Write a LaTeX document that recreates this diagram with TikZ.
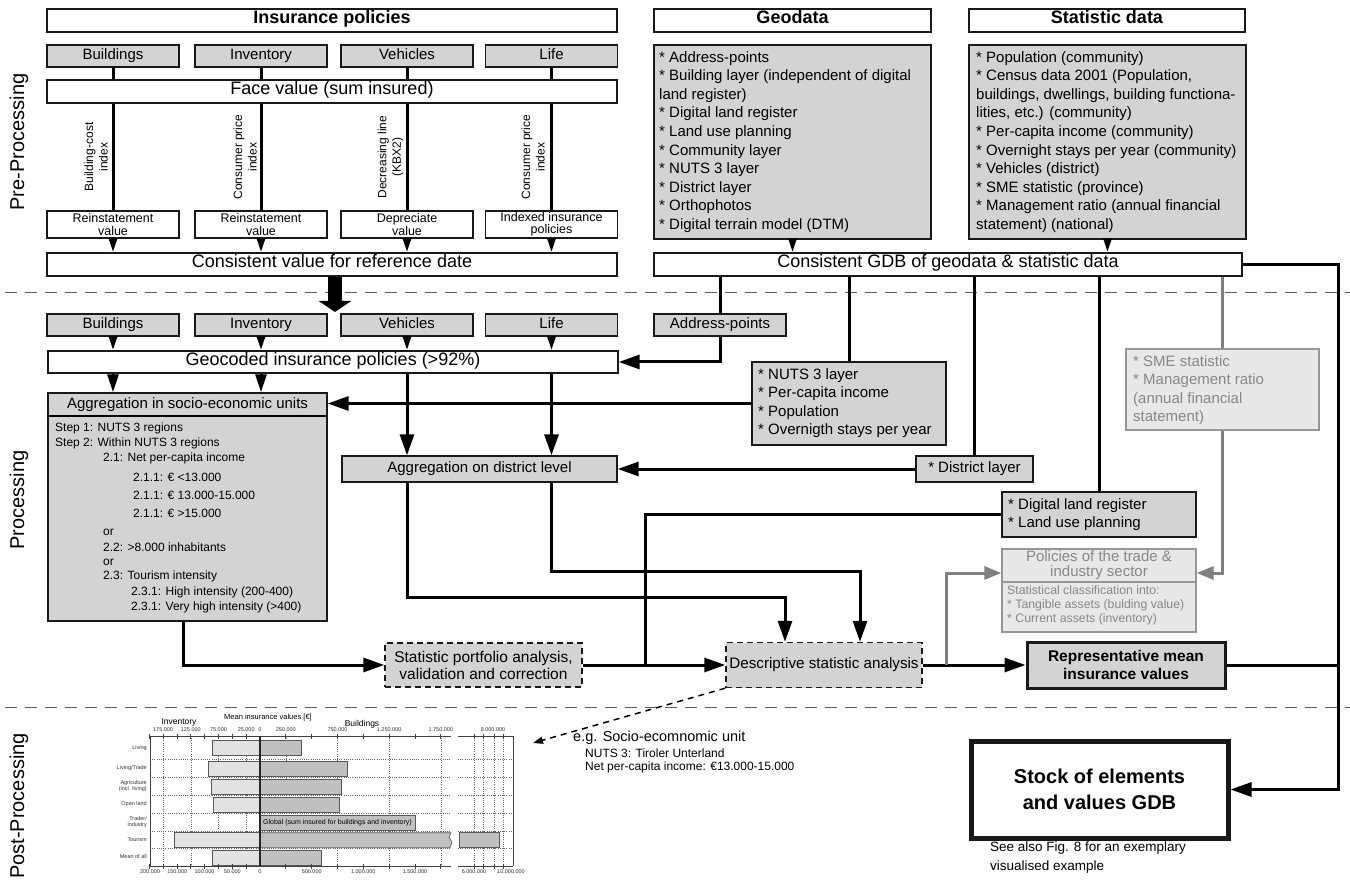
\documentclass[tikz,border=0pt]{standalone}
\usepackage{fontspec}
\setmainfont{Liberation Sans}
\usetikzlibrary{arrows.meta}
\definecolor{boxgray}{RGB}{211,211,211}
\definecolor{lightfill}{RGB}{232,232,232}
\definecolor{lightdraw}{RGB}{150,150,150}
\definecolor{lighttext}{RGB}{135,135,135}
\definecolor{arrowgray}{RGB}{128,128,128}
\definecolor{sepgray}{RGB}{90,90,90}
\definecolor{invbar}{RGB}{226,226,226}
\definecolor{bldbar}{RGB}{192,192,192}
\newcommand\myfs[2]{\fontsize{#1pt}{#2pt}\selectfont}
\begin{document}
\begin{tikzpicture}[x=1pt,y=-1pt,
  bx/.style={draw=black!90, line width=1.4pt, inner sep=0pt, align=center, font=\myfs{15}{17}},
  gb/.style={bx, fill=boxgray},
  wb/.style={bx, fill=white},
  sl/.style={text height=0.88em, text depth=0.2em},
  lb/.style={draw=lightdraw, line width=1.4pt, fill=lightfill, inner sep=0pt},
  hdr/.style={wb, sl, font=\bfseries\myfs{18}{20}, minimum height=23pt},
  wide/.style={wb, sl, font=\myfs{18}{20}, minimum width=570pt, minimum height=23pt},
  cat/.style={gb, sl, minimum width=132pt, minimum height=22pt, font=\myfs{15}{17}},
  res/.style={wb, minimum width=132pt, minimum height=27pt, font=\myfs{12.5}{12.5}},
  rot/.style={rotate=90, align=center, font=\myfs{12}{14.5}, inner sep=0pt},
  ln/.style={line width=3pt, draw=black},
  tS/.style={-{Triangle[length=14pt,width=8pt]}},
  tM/.style={-{Triangle[length=21pt,width=14pt]}},
  tMd/.style={-{Triangle[length=18pt,width=11pt]}},
  gline/.style={line width=3pt, draw=arrowgray},
  tG/.style={-{Triangle[length=17pt,width=13pt]}},
  lst/.style={anchor=north west, align=left, inner sep=0pt, font=\myfs{15}{18.6}},
  sepl/.style={draw=sepgray, line width=1pt, dash pattern=on 12pt off 8pt},
  dbox/.style={gb, dash pattern=on 6pt off 4pt},
  small/.style={anchor=west, inner sep=0pt, font=\myfs{12}{14}},
  side/.style={rotate=90, font=\myfs{20}{22}, inner sep=0pt},
  grid/.style={draw=black!60, line width=0.6pt, dash pattern=on 1pt off 1.2pt},
  ax/.style={draw=black!75, line width=0.8pt},
  tl/.style={font=\myfs{5.5}{6}, inner sep=0pt, text=black!80},
  rl/.style={font=\myfs{5.5}{6}, inner sep=0pt, anchor=east, align=right, text=black!80},
  invb/.style={draw=black!65, line width=0.6pt, fill=invbar},
  bldb/.style={draw=black!65, line width=0.6pt, fill=bldbar}
]
\fill[white] (0,0) rectangle (1350,885);
\useasboundingbox (0,0) rectangle (1350,885);

% side labels
\node[side] (pre) at (19,142) {Pre-Processing};
\node[side] (proc) at (19,500) {Processing};
\node[side] (post) at (19,806) {Post-Processing};

% separators
\draw[sepl] (5,293) -- (1350,293);
\draw[sepl] (5,707) -- (1350,707);

% headers
\node[hdr, minimum width=570pt] (ins) at (332,20.5) {Insurance policies};
\node[hdr, minimum width=277pt] (geoh) at (792.5,20.5) {Geodata};
\node[hdr, minimum width=276pt] (stath) at (1107,20.5) {Statistic data};

% pre-processing, insurance
\node[cat] (b1) at (113,56) {Buildings};
\node[cat] (i1) at (261,56) {Inventory};
\node[cat] (v1) at (407,56) {Vehicles};
\node[cat] (l1) at (551.5,56) {Life};
\node[wide] (face) at (332,91.5) {Face value (sum insured)};
\node[res] (r1) at (113,224.5) {Reinstatement\\value};
\node[res] (r2) at (261,224.5) {Reinstatement\\value};
\node[res] (r3) at (407,224.5) {Depreciate\\value};
\node[res] (r4) at (551.5,224.5) {Indexed insurance\\policies};
\node[wide] (cons) at (332,264.5) {Consistent value for reference date};

\foreach \n in {b1,i1,v1,l1} \draw[ln] (\n.south) -- (\n.south |- face.north);
\foreach \n in {r1,r2,r3,r4} {
  \draw[ln] (face.south -| \n.north) -- (\n.north);
  \draw[ln,tS] (\n.south) -- (\n.south |- cons.north);
}
\node[rot] (k1) at (96,157) {Building-cost\\index};
\node[rot] (k2) at (245,157) {Consumer price\\index};
\node[rot] (k3) at (390.5,157) {Decreasing line\\(KBX2)};
\node[rot] (k4) at (533,157) {Consumer price\\index};

% geodata / statistic
\node[gb, minimum width=277pt, minimum height=194pt] (geo) at (792.5,142) {};
\node[lst] (geot) at (659,51) {* Address-points\\* Building layer (independent of digital\\land register)\\* Digital land register\\* Land use planning\\* Community layer\\* NUTS 3 layer\\* District layer\\* Orthophotos\\* Digital terrain model (DTM)};
\node[gb, minimum width=277pt, minimum height=194pt] (stat) at (1107.5,142) {};
\node[lst] (statt) at (976,51) {* Population (community)\\* Census data 2001 (Population,\\buildings, dwellings, building functiona-\\lities, etc.) (community)\\* Per-capita income (community)\\* Overnight stays per year (community)\\* Vehicles (district)\\* SME statistic (province)\\* Management ratio (annual financial\\statement) (national)};
\node[wb, sl, minimum width=588pt, minimum height=23pt, font=\myfs{18}{20}] (gdb) at (948,264.5) {Consistent GDB of geodata \& statistic data};
\draw[ln,tS] (geo.south) -- (geo.south |- gdb.north);
\draw[ln,tS] (stat.south) -- (stat.south |- gdb.north);

% big arrow
\draw[line width=14pt, -{Triangle[length=11pt,width=32pt]}] ([xshift=3pt]cons.south) -- ([xshift=3pt,yshift=2pt]cons.south |- i1.north |- 0,314);

% processing
\node[cat] (b2) at (113,325) {Buildings};
\node[cat] (i2) at (261,325) {Inventory};
\node[cat] (v2) at (407,325) {Vehicles};
\node[cat] (l2) at (551.5,325) {Life};
\node[cat] (addr) at (720,325) {Address-points};
\node[wb, sl, font=\myfs{18}{20}, minimum width=570pt, minimum height=22pt] (geoc) at (333,362) {Geocoded insurance policies (>92\%)};
\foreach \n in {b2,i2,v2,l2} \draw[ln,tS] (\n.south) -- (\n.south |- geoc.north);
\draw[ln] (addr.north |- gdb.south) -- (addr.north);
\draw[ln,tM] (addr.south) |- (geoc.east);

% aggregation socio-economic
\node[gb, minimum width=279pt, minimum height=228pt] (agg) at (187.5,507) {};
\node[font=\myfs{15}{17}, inner sep=0pt] (aggh) at (187.5,404.5) {Aggregation in socio-economic units};
\coordinate (aggd) at (0,416);
\draw[line width=1.4pt] (agg.west |- aggd) -- (agg.east |- aggd);
\foreach \xx/\yy/\txt [count=\i] in {55/428/{Step 1: NUTS 3 regions}, 55/443/{Step 2: Within NUTS 3 regions}, 103/458/{2.1: Net per-capita income}, 133/477/{2.1.1: € <13.000}, 133/495/{2.1.1: € 13.000-15.000}, 133/513/{2.1.1: € >15.000}, 103/532/{or}, 103/547/{2.2: >8.000 inhabitants}, 103/562/{or}, 103/576/{2.3: Tourism intensity}, 131/592/{2.3.1: High intensity (200-400)}, 131/607/{2.3.1: Very high intensity (>400)}}
  \node[small, name=ag\i] at (\xx,\yy) {\txt};
\draw[ln,tMd] (b2.south |- geoc.south) -- (b2.south |- agg.north);
\draw[ln,tMd] (i2.south |- geoc.south) -- (i2.south |- agg.north);

% NUTS box
\node[gb, minimum width=194pt, minimum height=83pt] (nuts) at (849,403.5) {};
\node[lst] (nutst) at (758,368) {* NUTS 3 layer\\* Per-capita income\\* Population\\* Overnigth stays per year};
\draw[ln] (nuts.north |- gdb.south) -- (nuts.north);
\draw[ln,tM] (nuts.west) -- (nuts.west -| agg.east);

% district
\node[gb, sl, minimum width=275pt, minimum height=26pt] (dist) at (479.5,469) {Aggregation on district level};
\draw[ln,tM] (v2.south |- geoc.south) -- (v2.south |- dist.north);
\draw[ln,tM] (l2.south |- geoc.south) -- (l2.south |- dist.north);
\node[gb, sl, minimum width=117pt, minimum height=26pt] (dl) at (974.5,469) {* District layer};
\draw[ln] (dl.north |- gdb.south) -- (dl.north);
\draw[ln,tM] (dl.west) -- (dist.east);

% digital land register
\node[gb, minimum width=194pt, minimum height=45pt] (dlr) at (1099,514.5) {};
\node[lst] (dlrt) at (1008,498) {* Digital land register\\* Land use planning};
\draw[ln] (dlr.north |- gdb.south) -- (dlr.north);

% SME and policies (grey)
\node[lb, minimum width=193pt, minimum height=81pt] (sme) at (1222.5,389.5) {};
\node[lst, text=lighttext] (smet) at (1133,355) {* SME statistic\\* Management ratio\\(annual financial\\statement)};
\draw[gline] (sme.north |- gdb.south) -- (sme.north);
\node[lb, minimum width=194pt, minimum height=83pt] (pol) at (1099,590.5) {};
\node[text=lighttext, align=center, font=\myfs{15}{15}, inner sep=0pt] (polt) at (1099,565) {Policies of the trade \&\\industry sector};
\coordinate (pold) at (0,582);
\draw[draw=lightdraw, line width=1.4pt] (pol.west |- pold) -- (pol.east |- pold);
\node[lst, text=lighttext, font=\myfs{12.3}{14}] (polc) at (1007,585) {Statistical classification into:\\* Tangible assets (bulding value)\\* Current assets (inventory)};

% bottom of processing
\node[dbox, minimum width=197pt, minimum height=44pt, font=\myfs{15.5}{17}] (port) at (483.5,665) {Statistic portfolio analysis,\\validation and correction};
\node[dbox, sl, minimum width=196pt, minimum height=45pt, font=\myfs{15.2}{17}] (desc) at (824,665) {Descriptive statistic analysis};
\node[gb, line width=3pt, minimum width=198pt, minimum height=46pt, font=\bfseries\myfs{15.5}{17.5}] (rep) at (1126,665) {Representative mean\\insurance values};

\draw[ln,tM] ([xshift=-4.5pt]agg.south) |- (port.west);
\draw[ln,tM] (port.east) -- (desc.west);
\draw[ln,tM] (desc.east) -- (rep.west);
\coordinate (c1) at (785,597);
\coordinate (c2) at (860,571);
\draw[ln,tM] (dist.south -| v2.south) |- (c1) -- (c1 |- desc.north);
\draw[ln,tM] (dist.south -| l2.south) |- (c2) -- (c2 |- desc.north);
\coordinate (c3) at (645,665);
\draw[ln] (dlr.west) -| (c3);
\coordinate (c4) at (946,573);
\draw[gline,tG] (desc.east -| c4) -- (c4) -- (c4 -| pol.west);
\draw[gline,tG] (sme.south) |- (c4 -| pol.east);

% stock
\node[wb, line width=5pt, minimum width=257pt, minimum height=97pt, font=\bfseries\myfs{20}{26}] (stock) at (1099.5,789.5) {Stock of elements\\and values GDB};
\node[anchor=north west, align=left, inner sep=0pt, font=\myfs{13.5}{19}] (see) at (990,842) {See also Fig. 8 for an exemplary\\visualised example};
\coordinate (c5) at (1338,264.5);
\draw[ln,tM] (gdb.east) -- (c5) |- (stock.east);
\draw[ln] (rep.east) -- (rep.east -| c5);

% example text
\node[anchor=west, inner sep=0pt, font=\myfs{14.5}{16}] (eg) at (573,738) {e.g. Socio-ecomnomic unit};
\node[anchor=west, inner sep=0pt, font=\myfs{12}{13}] (eg2) at (585,753) {NUTS 3: Tiroler Unterland};
\node[anchor=west, inner sep=0pt, font=\myfs{12}{13}] (eg3) at (585,767) {Net per-capita income: €13.000-15.000};
\coordinate (egtip) at (533,743);
\draw[line width=1.5pt, dash pattern=on 6pt off 5pt, -{Triangle[length=10pt,width=7pt]}] (desc.south west) -- (egtip);

% chart
\foreach \gx in {163.1,190.8,218.5,246.2,285.8,337.5,389.1,440.8,474,483,494,503}
  \draw[grid] (\gx,736) -- (\gx,866);
\foreach \gy in {759,777.5,795.5,813.5,831,848.5} {
  \draw[grid] (150,\gy) -- (451,\gy);
  \draw[grid] (458,\gy) -- (513,\gy);
}
\foreach \cy/\l/\r in {747.5/212/301, 768.2/208/347, 786.5/211/341, 804.5/213/339, 857.2/212/321} {
  \draw[invb] (\l,\cy-7) rectangle (260,\cy+8);
  \draw[bldb] (260,\cy-7) rectangle (\r,\cy+8);
}
\draw[bldb] (260,815.2) rectangle (415,830.2);
\node[anchor=west, inner sep=0pt, font=\myfs{7}{8}] (glob) at (263,822.7) {Global (sum insured for buildings and inventory)};
\draw[invb] (174,832.7) rectangle (260,847.7);
\draw[bldb] (260,832.7) -- (451,832.7) -- (449,837) -- (452,842) -- (450,847.7) -- (260,847.7) -- cycle;
\draw[bldb] (459,832.7) rectangle (499,847.7);
\draw[ax] (150,736) -- (451,736);
\draw[ax] (458,736) -- (513,736);
\draw[ax] (150,866) -- (451,866);
\draw[ax] (458,866) -- (513,866);
\draw[ax] (150,736) -- (150,866);
\draw[ax] (513,736) -- (513,866);
\draw[draw=black!85, line width=1.2pt] (260,736) -- (260,866);
\foreach \k in {1,...,8} {
  \draw[ax] ({260-\k*13.84},733.5) -- ({260-\k*13.84},738.5);
  \draw[ax] ({260-\k*13.84},863.5) -- ({260-\k*13.84},868.5);
}
\foreach \k in {1,...,7} {
  \draw[ax] ({260+\k*25.83},733.5) -- ({260+\k*25.83},738.5);
  \draw[ax] ({260+\k*25.83},863.5) -- ({260+\k*25.83},868.5);
}
\foreach \gx in {474,483,494,503} {
  \draw[ax] (\gx,733.5) -- (\gx,738.5);
  \draw[ax] (\gx,863.5) -- (\gx,868.5);
}
\foreach \xx/\txt [count=\i] in {163.1/175.000, 190.8/125.000, 218.5/75.000, 246.2/25.000, 260/0, 285.8/250.000, 337.5/750.000, 389.1/1.250.000, 440.8/1.750.000, 493/8.000.000}
  \node[tl, name=ta\i] at (\xx,729.5) {\txt};
\foreach \xx/\txt [count=\i] in {150/200.000, 177.3/150.000, 204.6/100.000, 232.3/50.000, 260/0, 311.7/500.000, 363.3/1.000.000, 415/1.500.000, 474/6.000.000, 511/10.000.000}
  \node[tl, name=tb\i] at (\xx,872) {\txt};
\node[rl] (rw1) at (147,748) {Living};
\node[rl] (rw2) at (147,768) {Living/Trade};
\node[rl] (rw3) at (147,786) {Agriculture\\(incl. living)};
\node[rl] (rw4) at (147,804.5) {Open land};
\node[rl] (rw5) at (147,822) {Trader/\\industry};
\node[rl] (rw6) at (147,839.5) {Tourism};
\node[rl] (rw7) at (147,857) {Mean of all};
\node[font=\myfs{8.5}{9}, inner sep=0pt] (cinv) at (179,722.5) {Inventory};
\node[font=\myfs{7.5}{8}, inner sep=0pt] (ctit) at (268,718) {Mean insurance values [€]};
\node[font=\myfs{8.5}{9}, inner sep=0pt] (cbld) at (362,724.5) {Buildings};
\end{tikzpicture}
\end{document}
